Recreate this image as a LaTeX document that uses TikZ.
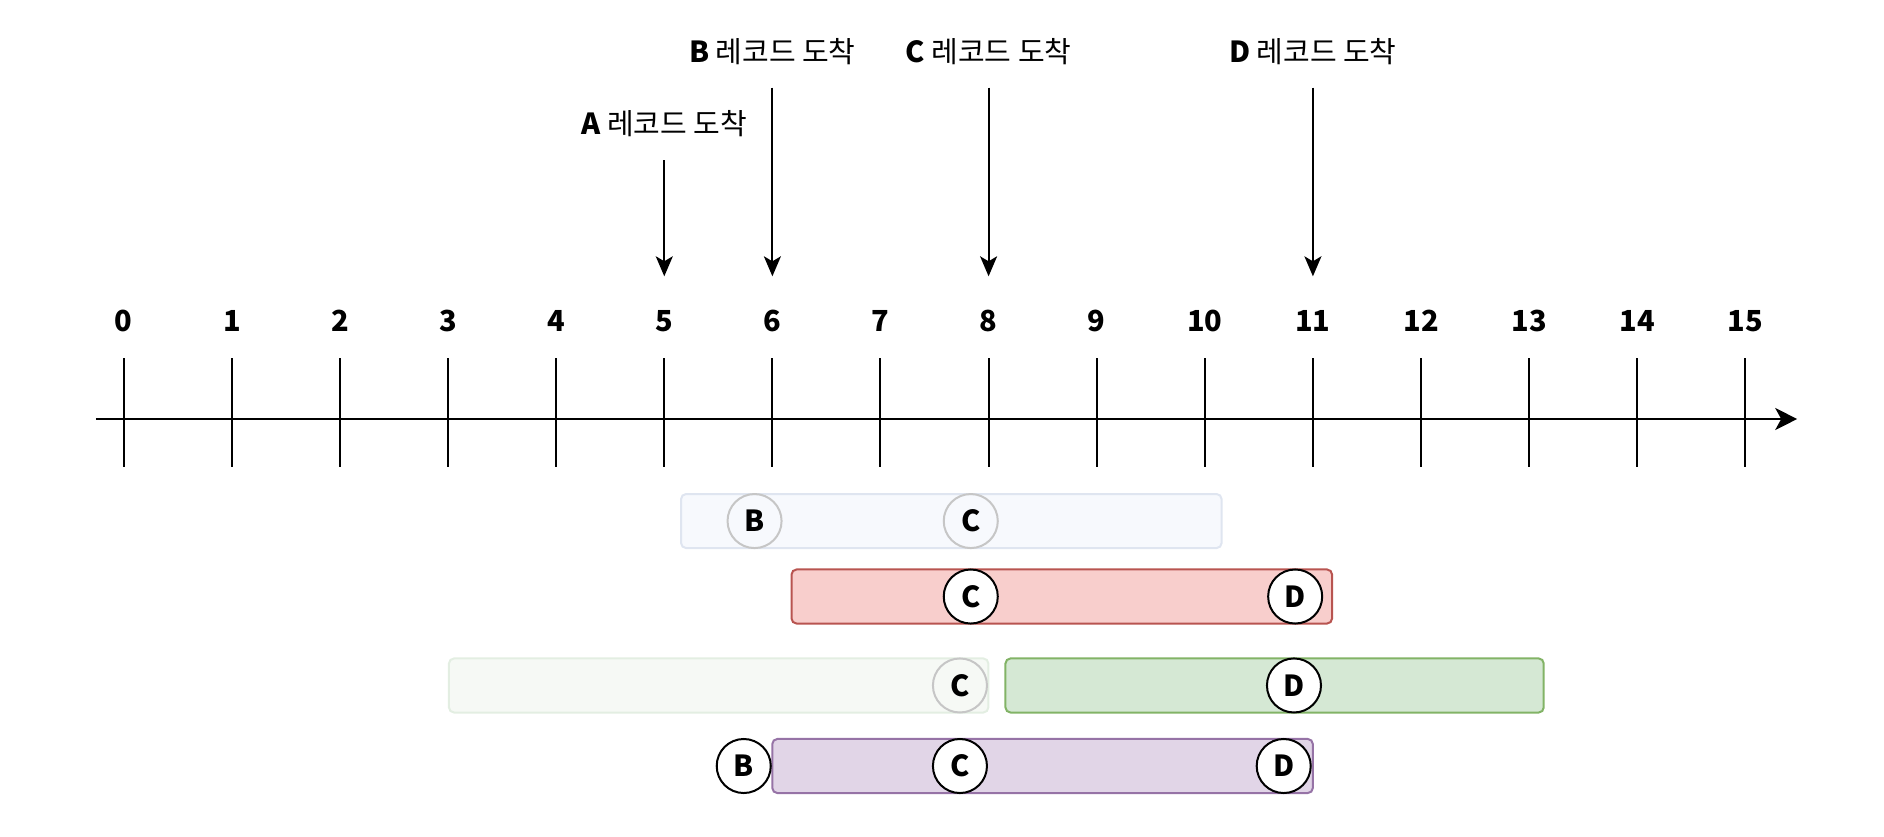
\documentclass[tikz,border=0pt]{standalone}
\usepackage{fontspec}
\newfontfamily\krfont{Noto Sans CJK KR}
\usepackage{xcolor}
\usepackage{tikz}
\usetikzlibrary{positioning, arrows.meta}

\definecolor{fadeblue}{HTML}{F7F9FD}
\definecolor{fadeblueline}{HTML}{DFE5F0}
\definecolor{redfill}{HTML}{F8CECC}
\definecolor{redline}{HTML}{B85450}
\definecolor{fadegreen}{HTML}{F6F9F5}
\definecolor{fadegreenline}{HTML}{E3EEE2}
\definecolor{greenfill}{HTML}{D5E8D4}
\definecolor{greenline}{HTML}{82B366}
\definecolor{purplefill}{HTML}{E1D5E7}
\definecolor{purpleline}{HTML}{9673A6}
\definecolor{fadecircle}{HTML}{C6C6C6}

\begin{document}
\begin{tikzpicture}[x=1.9cm, y=1.9cm, font=\krfont\fontsize{14.5}{17}\selectfont,
    arrive/.style={-{Stealth[length=10pt,width=8.5pt,inset=2.5pt]}, line width=1pt, shorten <=8pt},
    recbar/.style={draw, line width=1pt, rounded corners=2.5pt, anchor=west,
        minimum width=9.5cm, minimum height=0.95cm, inner sep=0pt},
    rec/.style={circle, draw, line width=1pt, fill=white, minimum size=0.95cm, inner sep=0pt, font=\krfont\fontsize{14.5}{17}\selectfont\bfseries},
    oldrec/.style={rec, draw=fadecircle, fill=none}]
    \useasboundingbox (-1.145,-3.858) rectangle (16.283,3.876);

    % time axis
    \coordinate (axisstart) at (-0.257,0);
    \coordinate (axisend) at (15.48,0);
    \draw[line width=1pt, -{Stealth[length=11pt,width=11pt,inset=3pt]}] (axisstart) -- (axisend);
    \foreach \i in {0,...,15} {
        \draw[line width=1pt] (\i,-0.44) -- (\i,0.56);
        \node[font=\krfont\fontsize{14.5}{17}\selectfont\bfseries] (n\i) at (\i,0.906) {\i};
    }

    % arrivals
    \foreach \name/\x/\y/\rec in {a/5/2.73/A, b/6/3.40/B, c/8/3.40/C, d/11/3.40/D} {
        \node (l\name) at (\x,\y) {\textbf{\rec}\ 레코드 도착};
        \coordinate (t\name) at (\x,1.32);
        \draw[arrive] (l\name.south) -- (t\name);
    }

    % windows
    \node (bar1) [recbar, fill=fadeblue, draw=fadeblueline] at (5.146,-0.944) {};
    \node (bar2) [recbar, fill=redfill, draw=redline] at (6.168,-1.642) {};
    \node (bar3) [recbar, fill=fadegreen, draw=fadegreenline, minimum width=9.48cm] at (2.999,-2.465) {};
    \node (bar4) [recbar, fill=greenfill, draw=greenline, minimum width=9.46cm] at (8.147,-2.465) {};
    \node (bar5) [recbar, fill=purplefill, draw=purpleline] at (5.99,-3.21) {};

    % records
    \node (b1) [oldrec] at (5.835,-0.944) {B};
    \node (c1) [oldrec] at (7.835,-0.944) {C};
    \node (c2) [rec] at (7.835,-1.642) {C};
    \node (d2) [rec] at (10.836,-1.642) {D};
    \node (c3) [oldrec] at (7.735,-2.465) {C};
    \node (d3) [rec] at (10.825,-2.465) {D};
    \node (b4) [rec] at (5.735,-3.21) {B};
    \node (c4) [rec] at (7.735,-3.21) {C};
    \node (d4) [rec] at (10.73,-3.21) {D};
\end{tikzpicture}
\end{document}
